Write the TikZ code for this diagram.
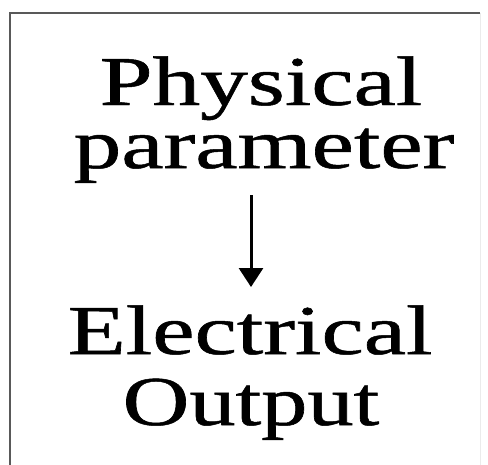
\documentclass[tikz,border=0pt]{standalone}
\usepackage{fontspec}
\setmainfont{Liberation Serif}
\newfontfamily\lblfont{Liberation Serif}[FakeBold=0.7]
\usetikzlibrary{arrows.meta}
\begin{document}
\begin{tikzpicture}[x=1pt,y=-1pt,
  lbl/.style={anchor=base,inner sep=0pt,text height=48pt,text depth=13pt,font=\lblfont\fontsize{70}{70}\selectfont},
  conn/.style={line width=3pt,-{Triangle[width=24pt,length=19pt]}}]
\useasboundingbox (0,0) rectangle (488,464);
\fill[white] (0,0) rectangle (488,464);
\draw[line width=2.6pt,black!65] (10,470) -- (10,13) -- (480,13);
\draw[line width=1pt,black!8] (480,13) -- (480,470);
\node[lbl] (phys) at (261,105) {\scalebox{1.36}[1]{Physical}};
\node[lbl] (param) at (264,168) {\scalebox{1.36}[1]{parameter}};
\node[lbl] (elec) at (250,354) {\scalebox{1.36}[1]{Electrical}};
\node[lbl] (out) at (251,425) {\scalebox{1.32}[1]{Output}};
\coordinate (a1) at (251,195);
\coordinate (a2) at (251,287);
\draw[conn] (a1) -- (a2);
\end{tikzpicture}
\end{document}
